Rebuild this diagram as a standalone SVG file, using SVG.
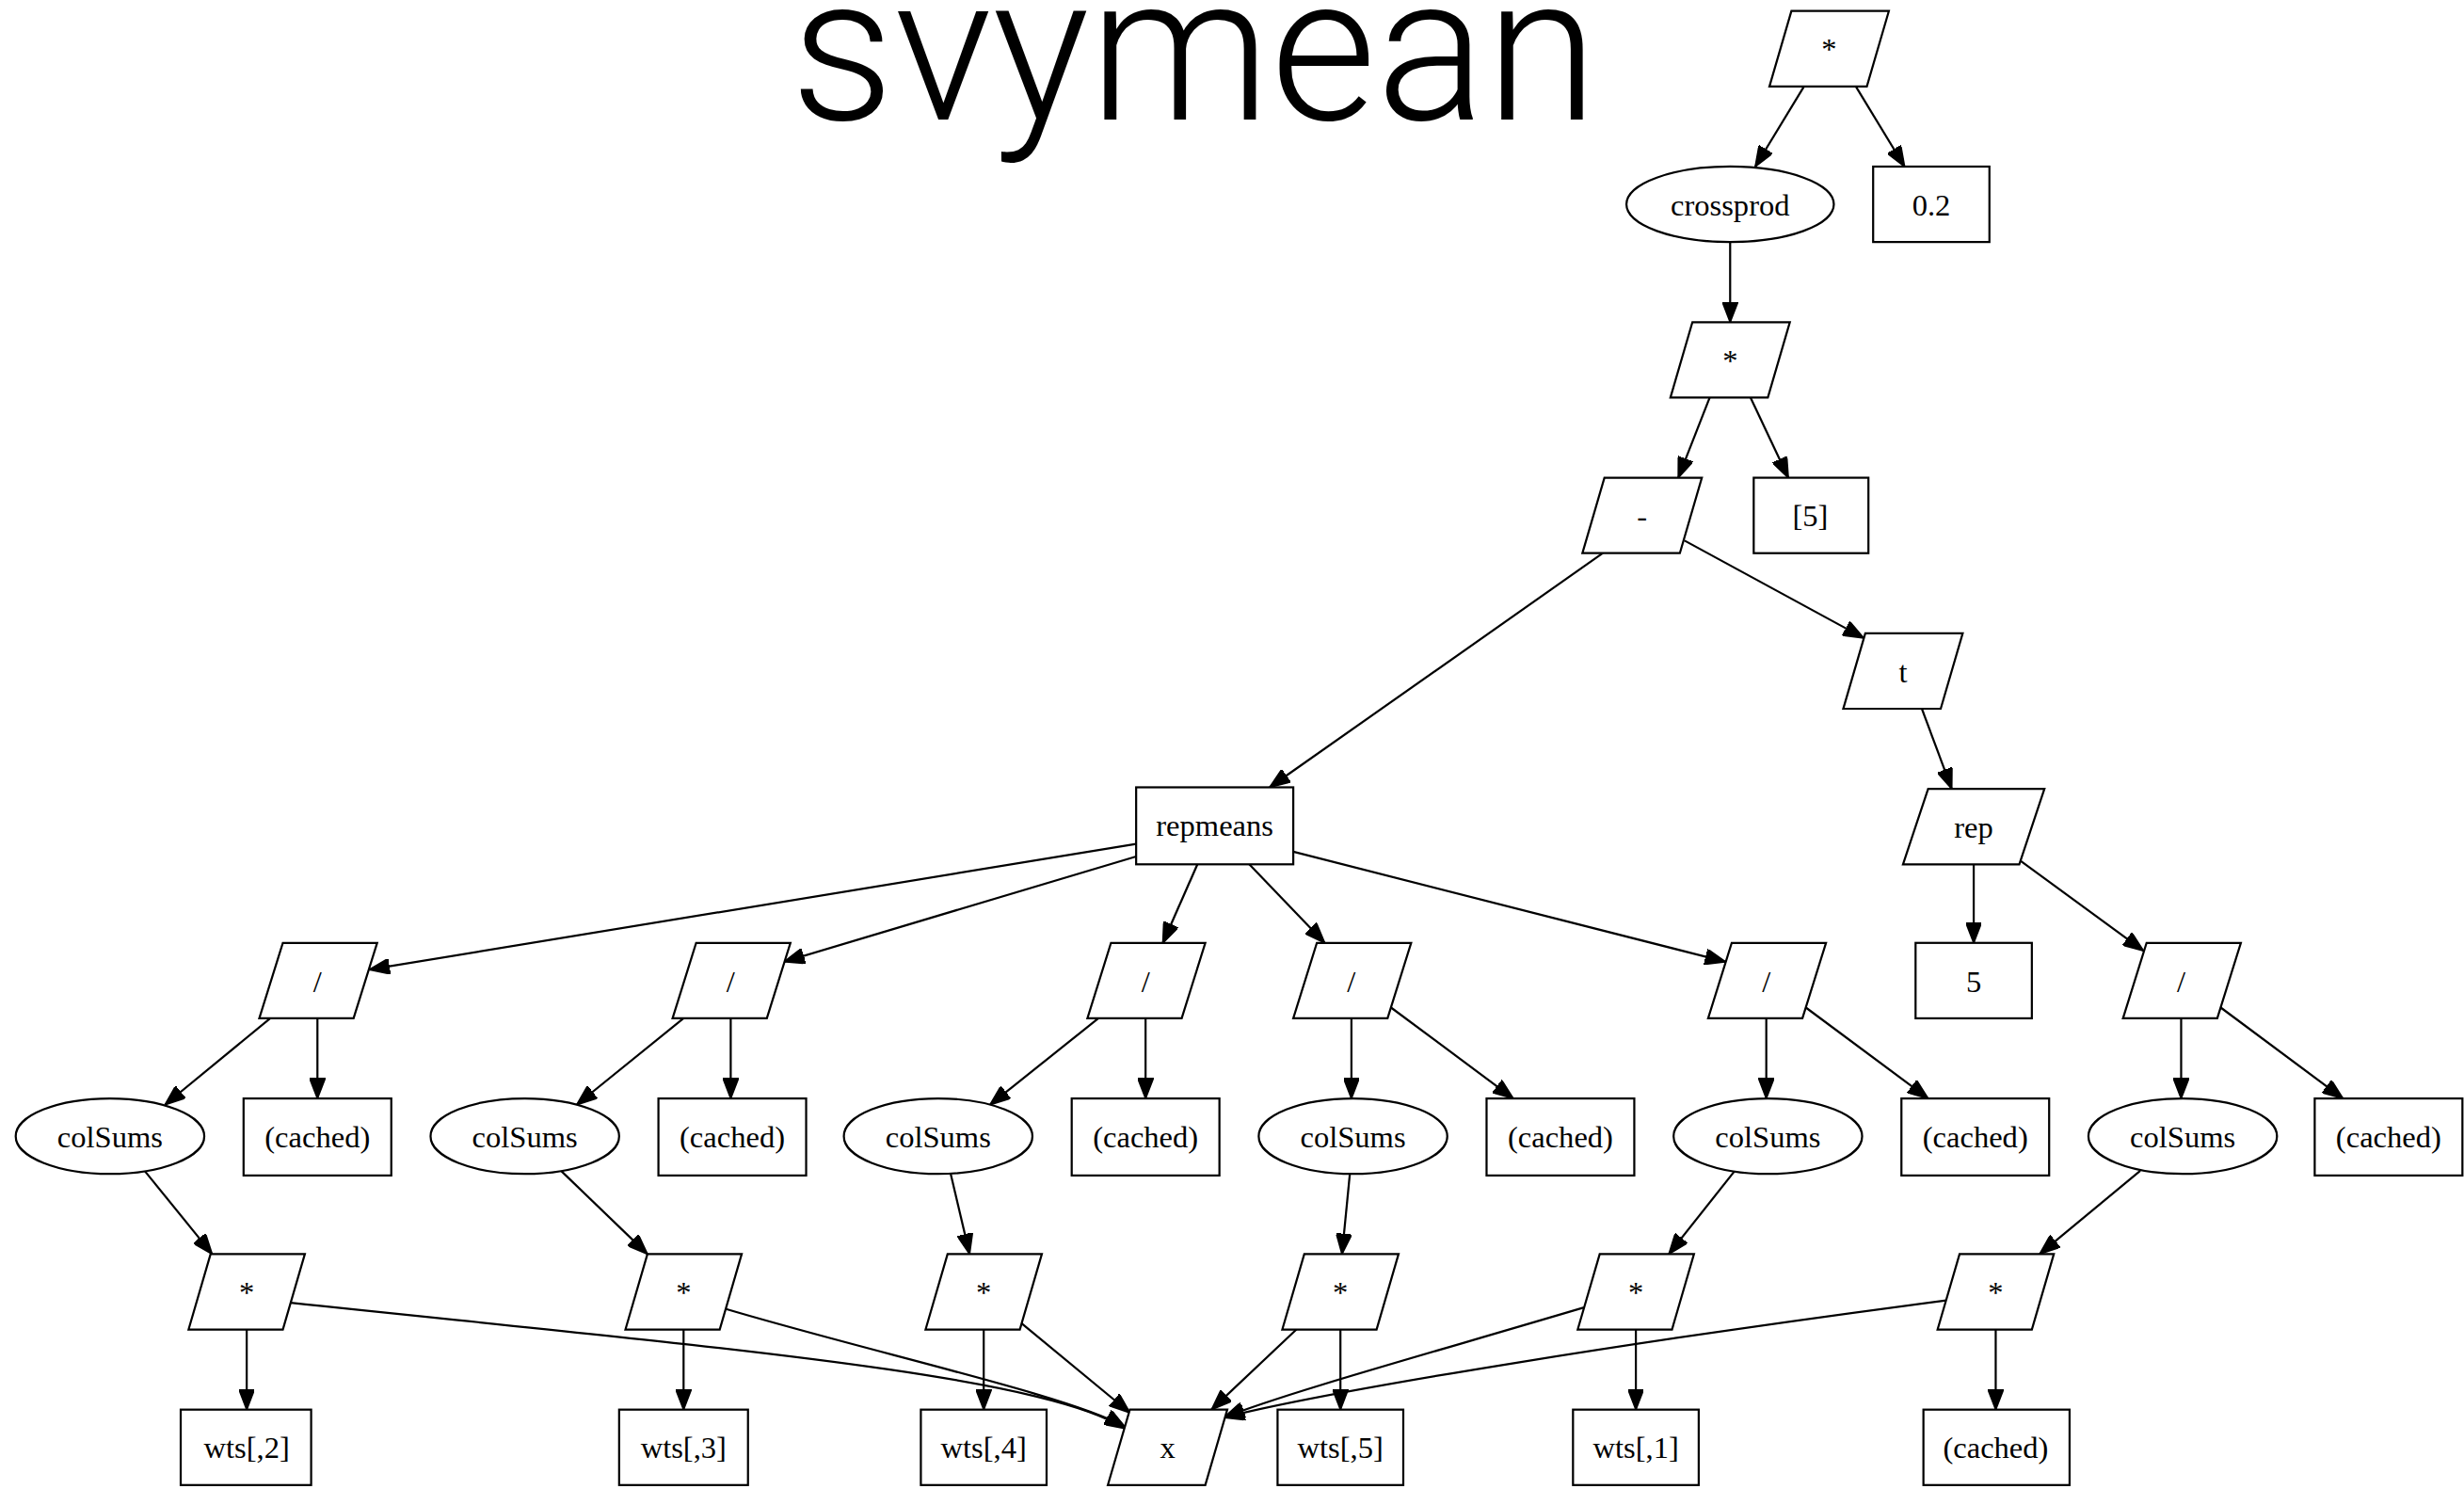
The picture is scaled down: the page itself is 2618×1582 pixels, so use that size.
<svg xmlns="http://www.w3.org/2000/svg" width="2618" height="1582" viewBox="0 0 2618 1582">
<style>
.n{fill:#fff;stroke:#000;stroke-width:1.33}
.t{font-family:"Liberation Serif","Times New Roman",serif;font-size:19.5px;text-anchor:middle;fill:#000}
.e{fill:none;stroke:#000;stroke-width:1.33;marker-end:url(#ah)}
.title{font-family:Roboto,"Liberation Sans",Arial,sans-serif;font-weight:300;font-size:130px;text-anchor:middle;fill:#000}
</style>
<defs>
<marker id="ah" viewBox="0 0 13 10" refX="13" refY="5" markerWidth="13" markerHeight="10" markerUnits="userSpaceOnUse" orient="auto">
<path d="M0,0 L13,5 L0,10 z" fill="#000" stroke="#000" stroke-width="1"/>
</marker>
</defs>
<rect width="2618" height="1582" fill="#fff"/>
<g transform="scale(1.66964)">
<text class="title" x="760" y="76">svymean</text>

<g id="connectors">
<path class="e" d="M1148,55 L1117,106"/>
<path class="e" d="M1181,55 L1212,106"/>
<path class="e" d="M1101,154 L1101,205"/>
<path class="e" d="M1088,253 L1068,304"/>
<path class="e" d="M1114,253 L1138,304"/>
<path class="e" d="M1020,352 L808,501"/>
<path class="e" d="M1072,344 L1186,406"/>
<path class="e" d="M1223,451 L1242,502"/>
<path class="e" d="M723,537 L235,617"/>
<path class="e" d="M723,545 L499,612"/>
<path class="e" d="M762,550 L740,600"/>
<path class="e" d="M795,550 L843,600"/>
<path class="e" d="M823,542 L1098,612"/>
<path class="e" d="M1256,550 L1256,600"/>
<path class="e" d="M1286,548 L1364,605"/>
<path class="e" d="M172,648 L105,703"/>
<path class="e" d="M202,648 L202,699"/>
<path class="e" d="M435,648 L367,703"/>
<path class="e" d="M465,648 L465,699"/>
<path class="e" d="M699,648 L630,703"/>
<path class="e" d="M729,648 L729,699"/>
<path class="e" d="M860,648 L860,699"/>
<path class="e" d="M885,641 L963,699"/>
<path class="e" d="M1124,648 L1124,699"/>
<path class="e" d="M1149,641 L1227,699"/>
<path class="e" d="M1388,648 L1388,699"/>
<path class="e" d="M1413,641 L1491,699"/>
<path class="e" d="M92,745 L135,798"/>
<path class="e" d="M357,745 L412,798"/>
<path class="e" d="M605,747 L617,798"/>
<path class="e" d="M859,747 L854,798"/>
<path class="e" d="M1104,745 L1062,798"/>
<path class="e" d="M1362,745 L1298,798"/>
<path class="e" d="M157,846 L157,897"/>
<path class="e" d="M435,846 L435,897"/>
<path class="e" d="M626,846 L626,897"/>
<path class="e" d="M853,846 L853,897"/>
<path class="e" d="M1041,846 L1041,897"/>
<path class="e" d="M1270,846 L1270,897"/>
<path class="e" d="M185,829 C450,857 660,874 716,909"/>
<path class="e" d="M462,833 C560,862 680,888 716,908"/>
<path class="e" d="M650,842 L719,899"/>
<path class="e" d="M825,846 L771,897"/>
<path class="e" d="M1008,832 C900,864 820,886 779,902"/>
<path class="e" d="M1242,827 C1050,852 850,884 779,902"/>
</g>

<g id="n_mul_top"><polygon class="n" points="1140,7 1202,7 1188,55 1126,55"/><text class="t" x="1164" y="38">*</text></g>
<g id="n_crossprod"><ellipse class="n" cx="1101" cy="130" rx="66" ry="24"/><text class="t" x="1101" y="137">crossprod</text></g>
<g id="n_02"><rect class="n" x="1192" y="106" width="74" height="48"/><text class="t" x="1229" y="137">0.2</text></g>
<g id="n_mul2"><polygon class="n" points="1077,205 1139,205 1125,253 1063,253"/><text class="t" x="1101" y="236">*</text></g>
<g id="n_minus"><polygon class="n" points="1021,304 1083,304 1069,352 1007,352"/><text class="t" x="1045" y="335">-</text></g>
<g id="n_5br"><rect class="n" x="1116" y="304" width="73" height="48"/><text class="t" x="1152" y="335">[5]</text></g>
<g id="n_t"><polygon class="n" points="1187,403 1249,403 1235,451 1173,451"/><text class="t" x="1211" y="434">t</text></g>
<g id="n_repmeans"><rect class="n" x="723" y="501" width="100" height="49"/><text class="t" x="773" y="532">repmeans</text></g>
<g id="n_rep"><polygon class="n" points="1227,502 1301,502 1285,550 1211,550"/><text class="t" x="1256" y="533">rep</text></g>

<g id="n_div1"><polygon class="n" points="180,600 240,600 225,648 165,648"/><text class="t" x="202" y="631">/</text></g>
<g id="n_div2"><polygon class="n" points="443,600 503,600 488,648 428,648"/><text class="t" x="465" y="631">/</text></g>
<g id="n_div3"><polygon class="n" points="707,600 767,600 752,648 692,648"/><text class="t" x="729" y="631">/</text></g>
<g id="n_div4"><polygon class="n" points="838,600 898,600 883,648 823,648"/><text class="t" x="860" y="631">/</text></g>
<g id="n_div5"><polygon class="n" points="1102,600 1162,600 1147,648 1087,648"/><text class="t" x="1124" y="631">/</text></g>
<g id="n_five"><rect class="n" x="1219" y="600" width="74" height="48"/><text class="t" x="1256" y="631">5</text></g>
<g id="n_div6"><polygon class="n" points="1366,600 1426,600 1411,648 1351,648"/><text class="t" x="1388" y="631">/</text></g>

<g id="n_cs1"><ellipse class="n" cx="70" cy="723" rx="60" ry="24"/><text class="t" x="70" y="730">colSums</text></g>
<g id="n_ca1"><rect class="n" x="155" y="699" width="94" height="49"/><text class="t" x="202" y="730">(cached)</text></g>
<g id="n_cs2"><ellipse class="n" cx="334" cy="723" rx="60" ry="24"/><text class="t" x="334" y="730">colSums</text></g>
<g id="n_ca2"><rect class="n" x="419" y="699" width="94" height="49"/><text class="t" x="466" y="730">(cached)</text></g>
<g id="n_cs3"><ellipse class="n" cx="597" cy="723" rx="60" ry="24"/><text class="t" x="597" y="730">colSums</text></g>
<g id="n_ca3"><rect class="n" x="682" y="699" width="94" height="49"/><text class="t" x="729" y="730">(cached)</text></g>
<g id="n_cs4"><ellipse class="n" cx="861" cy="723" rx="60" ry="24"/><text class="t" x="861" y="730">colSums</text></g>
<g id="n_ca4"><rect class="n" x="946" y="699" width="94" height="49"/><text class="t" x="993" y="730">(cached)</text></g>
<g id="n_cs5"><ellipse class="n" cx="1125" cy="723" rx="60" ry="24"/><text class="t" x="1125" y="730">colSums</text></g>
<g id="n_ca5"><rect class="n" x="1210" y="699" width="94" height="49"/><text class="t" x="1257" y="730">(cached)</text></g>
<g id="n_cs6"><ellipse class="n" cx="1389" cy="723" rx="60" ry="24"/><text class="t" x="1389" y="730">colSums</text></g>
<g id="n_ca6"><rect class="n" x="1473" y="699" width="94" height="49"/><text class="t" x="1520" y="730">(cached)</text></g>

<g id="n_m1"><polygon class="n" points="134,798 194,798 180,846 120,846"/><text class="t" x="157" y="829">*</text></g>
<g id="n_m2"><polygon class="n" points="412,798 472,798 458,846 398,846"/><text class="t" x="435" y="829">*</text></g>
<g id="n_m3"><polygon class="n" points="603,798 663,798 649,846 589,846"/><text class="t" x="626" y="829">*</text></g>
<g id="n_m4"><polygon class="n" points="830,798 890,798 876,846 816,846"/><text class="t" x="853" y="829">*</text></g>
<g id="n_m5"><polygon class="n" points="1018,798 1078,798 1064,846 1004,846"/><text class="t" x="1041" y="829">*</text></g>
<g id="n_m6"><polygon class="n" points="1247,798 1307,798 1293,846 1233,846"/><text class="t" x="1270" y="829">*</text></g>

<g id="n_w2"><rect class="n" x="115" y="897" width="83" height="48"/><text class="t" x="157" y="928">wts[,2]</text></g>
<g id="n_w3"><rect class="n" x="394" y="897" width="82" height="48"/><text class="t" x="435" y="928">wts[,3]</text></g>
<g id="n_w4"><rect class="n" x="586" y="897" width="80" height="48"/><text class="t" x="626" y="928">wts[,4]</text></g>
<g id="n_x"><polygon class="n" points="719,897 781,897 767,945 705,945"/><text class="t" x="743" y="928">x</text></g>
<g id="n_w5"><rect class="n" x="813" y="897" width="80" height="48"/><text class="t" x="853" y="928">wts[,5]</text></g>
<g id="n_w1"><rect class="n" x="1001" y="897" width="80" height="48"/><text class="t" x="1041" y="928">wts[,1]</text></g>
<g id="n_ca7"><rect class="n" x="1224" y="897" width="93" height="48"/><text class="t" x="1270" y="928">(cached)</text></g>
</g>
</svg>
